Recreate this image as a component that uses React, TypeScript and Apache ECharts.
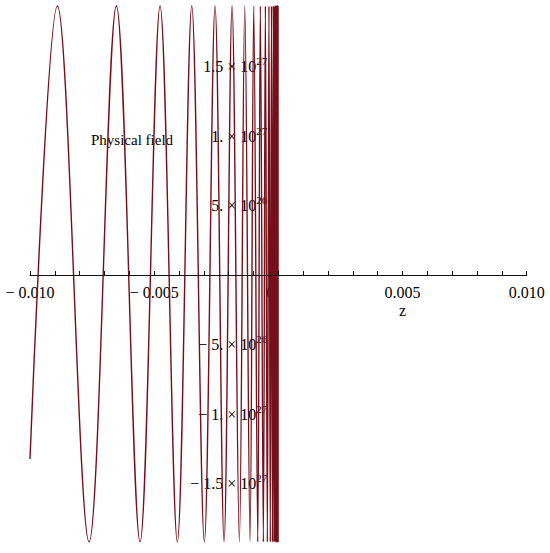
import React, { useEffect, useRef } from "react";
import * as echarts from "echarts";

// z positions of the start point and of each successive extremum
const zValues = [
  -0.01, -0.008899, -0.007622, -0.006523, -0.005569, -0.004763, -0.004067, -0.003487,
  -0.00298, -0.002549, -0.002186, -0.001864, -0.00157, -0.001353, -0.00114, -0.000991,
  -0.000829, -0.000725, -0.000604, -0.000523, -0.000443, -0.000379, -0.000324, -0.000277,
  -0.000237, -0.000203, -0.000174, -0.000149, -0.000127, -0.000109, -0.000093, -0.00008,
  -0.000068, -0.000058, -0.00005, -0.000043, -0.000037, -0.000031, -0.000027, -0.000023,
  -0.00002, -0.000017, -0.000014, -0.000012, -0.00001,
];

// field values at those points
const fieldValues = [
  -1.324e27, 1.935e27, -1.92e27, 1.935e27, -1.92e27, 1.935e27, -1.92e27, 1.935e27,
  -1.92e27, 1.935e27, -1.92e27, 1.935e27, -1.92e27, 1.935e27, -1.92e27, 1.935e27,
  -1.92e27, 1.935e27, -1.92e27, 1.935e27, -1.92e27, 1.935e27, -1.92e27, 1.935e27,
  -1.92e27, 1.935e27, -1.92e27, 1.935e27, -1.92e27, 1.935e27, -1.92e27, 1.935e27,
  -1.92e27, 1.935e27, -1.92e27, 1.935e27, -1.92e27, 1.935e27, -1.92e27, 1.935e27,
  -1.92e27, 1.935e27, -1.92e27, 1.935e27, -1.92e27,
];

const xTickValues = [-0.01, -0.005, 0, 0.005, 0.01];
const xTickLabels = ["− 0.010", "− 0.005", "0", "0.005", "0.010"];

const yTickValues = [-1.5e27, -1e27, -5e26, 5e26, 1e27, 1.5e27];
const yTickMantissas = ["− 1.5", "− 1.", "− 5.", "5.", "1.", "1.5"];
const yTickExponents = ["27", "27", "26", "26", "27", "27"];

const xAxisTitle = "z";
const chartNote = "Physical field";

const SERIF = "'Liberation Serif', 'Times New Roman', serif";

export default function App() {
  const ref = useRef<HTMLDivElement>(null);

  useEffect(() => {
    document.body.style.margin = "0";
    if (!ref.current) return;
    const chart = echarts.init(ref.current, undefined, { renderer: "svg" });

    const data = zValues.map((z, i) => [z, fieldValues[i]]);

    chart.setOption({
      animation: false,
      backgroundColor: "#ffffff",
      grid: {
        left: 30,
        right: 23.3,
        top: -3,
        height: 556,
        containLabel: false,
        outerBoundsMode: "none",
      },
      xAxis: {
        type: "value",
        min: -0.01,
        max: 0.01,
        interval: 0.005,
        z: 5,
        axisLine: { show: true, onZero: true, lineStyle: { color: "#111", width: 1.2 } },
        axisTick: { show: true, inside: true, length: 4, lineStyle: { color: "#111" } },
        minorTick: { show: true, splitNumber: 5, length: 4, lineStyle: { color: "#111" } },
        splitLine: { show: false },
        axisLabel: { show: false },
      },
      yAxis: {
        type: "value",
        min: -2e27,
        max: 2e27,
        interval: 5e26,
        axisLine: { show: false, onZero: true },
        axisTick: { show: false },
        splitLine: { show: false },
        axisLabel: { show: false },
      },
      series: [
        {
          type: "line",
          data,
          showSymbol: false,
          smooth: 0.35,
          lineStyle: { color: "#74101a", width: 1.4 },
          clip: true,
          z: 2,
        },
      ],
    });

    const graphics: any[] = [];
    xTickValues.forEach((v, i) => {
      const p = chart.convertToPixel({ gridIndex: 0 }, [v, 0]) as number[];
      graphics.push({
        type: "text",
        x: p[0] + (v === 0 ? -8 : 0),
        y: p[1] + 9,
        z: 0,
        style: {
          text: xTickLabels[i],
          fontFamily: SERIF,
          fontSize: 16,
          fill: "#000",
          align: "center",
          verticalAlign: "top",
        },
      });
    });
    yTickValues.forEach((v, i) => {
      const p = chart.convertToPixel({ gridIndex: 0 }, [0, v]) as number[];
      graphics.push({
        type: "text",
        x: p[0] - 11,
        y: p[1],
        z: 0,
        style: {
          text: "{m|" + yTickMantissas[i] + " × 10}{s|" + yTickExponents[i] + "}",
          align: "right",
          verticalAlign: "middle",
          rich: {
            m: { fontFamily: SERIF, fontSize: 16, fill: "#000", lineHeight: 22 },
            s: { fontFamily: SERIF, fontSize: 11, fill: "#000", lineHeight: 11, verticalAlign: "top" },
          },
        },
      });
    });
    const zp = chart.convertToPixel({ gridIndex: 0 }, [0.005, 0]) as number[];
    graphics.push({
      type: "text",
      x: zp[0],
      y: zp[1] + 35,
      z: 0,
      style: {
        text: xAxisTitle,
        fontFamily: SERIF,
        fontSize: 16,
        fill: "#000",
        align: "center",
        verticalAlign: "middle",
      },
    });
    graphics.push({
      type: "text",
      x: 91,
      y: 140,
      z: 0,
      style: {
        text: chartNote,
        fontFamily: SERIF,
        fontSize: 15,
        fill: "#000",
        align: "left",
        verticalAlign: "middle",
      },
    });
    chart.setOption({ graphic: graphics });

    return () => chart.dispose();
  }, []);

  return <div ref={ref} style={{ width: 550, height: 553 }} />;
}
